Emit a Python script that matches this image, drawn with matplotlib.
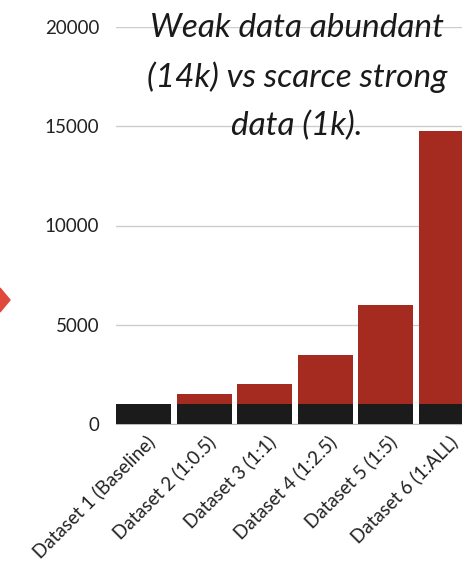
import matplotlib
matplotlib.use("Agg")
import matplotlib.pyplot as plt
from matplotlib.patches import Polygon
import matplotlib.transforms as mtransforms
import numpy as np

# strong (black) vs weak (red) sample counts per dataset
datasets = ["Dataset 1 (Baseline)", "Dataset 2 (1:0.5)", "Dataset 3 (1:1)",
            "Dataset 4 (1:2.5)", "Dataset 5 (1:5)", "Dataset 6 (1:ALL)"]
strong = [1000, 1000, 1000, 1000, 1000, 1000]
weak = [0, 500, 1000, 2500, 5000, 13750]
yticks = [0, 5000, 10000, 15000, 20000]

RED = "#a52b21"
BLACK = "#1b1b1b"

plt.rcParams['font.family'] = ['Lato', 'DejaVu Sans']

fig = plt.figure(figsize=(4.62, 5.80), dpi=100)
# axes run past the right edge of the figure on purpose
ax = fig.add_axes([116 / 462, (580 - 424) / 580, 363 / 462, (424 - 27) / 580])

x = np.arange(len(datasets))
ax.bar(x, strong, width=0.91, color=BLACK, zorder=3)
ax.bar(x, weak, bottom=strong, width=0.91, color=RED, zorder=3)

ax.set_xlim(-0.455, len(datasets) - 0.455)
ax.set_ylim(0, 20000)
ax.set_yticks(yticks)
ax.set_yticklabels([str(v) for v in yticks], fontsize=13.5, color="#222222")
ax.yaxis.grid(True, color="#cccccc", linewidth=1, zorder=0)
ax.tick_params(axis='y', length=0, pad=12)
ax.tick_params(axis='x', length=0, pad=6)
for s in ["top", "right", "left"]:
    ax.spines[s].set_visible(False)
ax.spines["bottom"].set_color("#bbbbbb")

ax.set_xticks(x)
ax.set_xticklabels(datasets, rotation=45, ha='right', rotation_mode='anchor',
                   fontsize=13.5, color="#222222")
offset = mtransforms.ScaledTranslation(2 / 100, 0, fig.dpi_scale_trans)
for lbl in ax.get_xticklabels():
    lbl.set_transform(lbl.get_transform() + offset)

# heading over the top of the plot
fig.text(297 / 462, 1 - 77 / 580,
         "Weak data abundant\n(14k) vs scarce strong\ndata (1k).",
         ha='center', va='center', fontsize=24, style='italic',
         color="#1a1a1a", linespacing=1.72)

# arrow tip on the left edge
tri = Polygon([[0, 1 - 288 / 580], [10 / 462, 1 - 300 / 580], [0, 1 - 312 / 580]],
              closed=True, transform=fig.transFigure, color="#e04a3b")
fig.patches.append(tri)

fig.savefig("out.png", dpi=100)
